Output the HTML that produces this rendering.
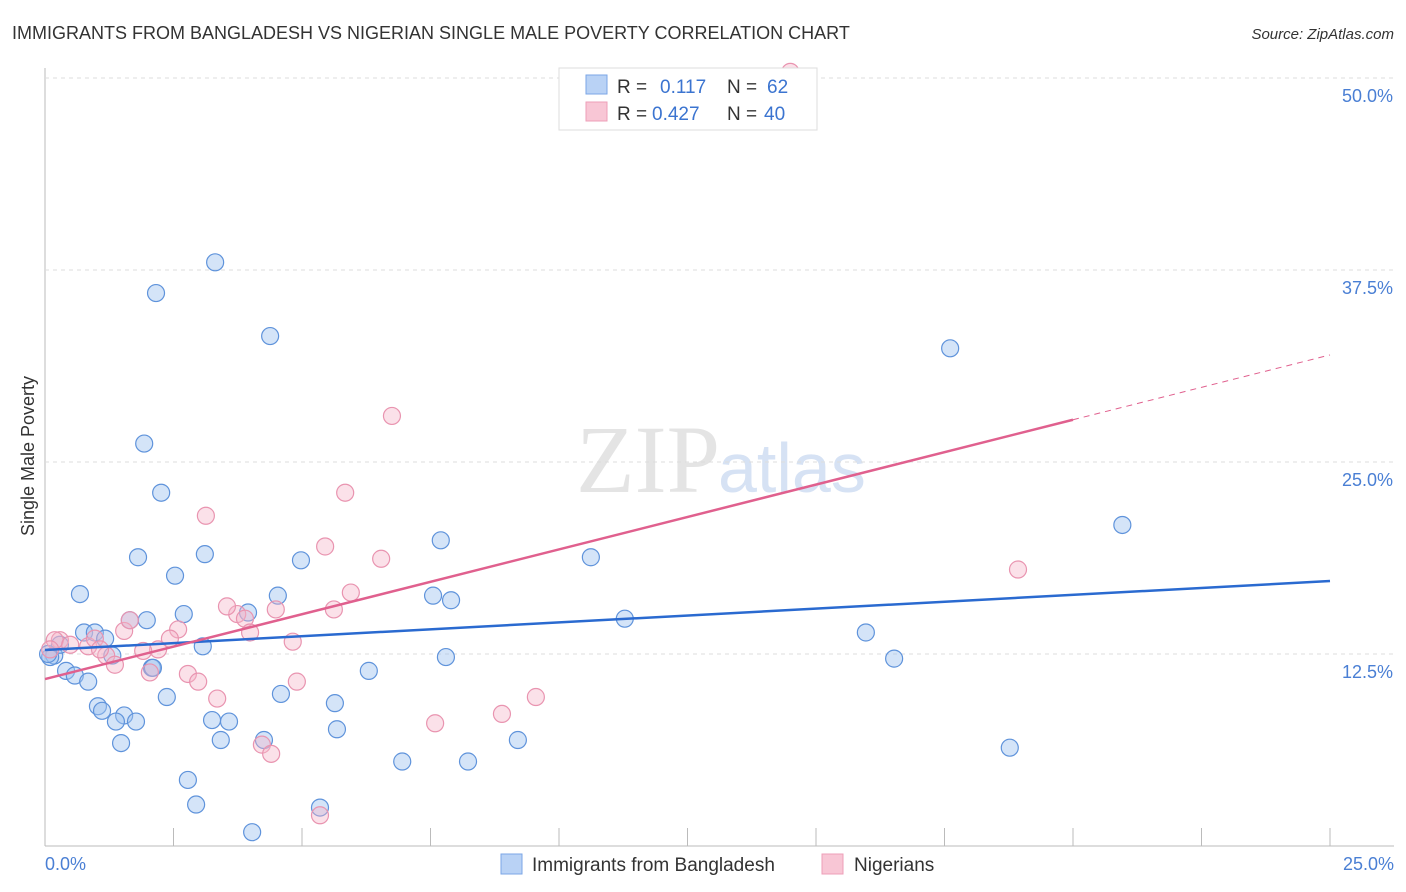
<!DOCTYPE html>
<html><head><meta charset="utf-8"><style>
body{margin:0;background:#fff;font-family:"Liberation Sans",sans-serif;}
svg{display:block}
</style></head><body>
<svg id="chart" width="1406" height="892">
<text x="12" y="39" font-size="18" fill="#333">IMMIGRANTS FROM BANGLADESH VS NIGERIAN SINGLE MALE POVERTY CORRELATION CHART</text>
<text x="1394" y="39" font-size="15" font-style="italic" fill="#333" text-anchor="end">Source: ZipAtlas.com</text>
<text x="720" y="492" font-size="96" font-family="Liberation Serif,serif" fill="#e4e4e4" text-anchor="end">ZIP</text>
<text x="718" y="492" font-size="70" fill="#d6e2f4">atlas</text>
<g id="grid"></g><g id="pts"></g><g id="lines"></g>
<text x="0" y="0" transform="translate(34,456) rotate(-90)" font-size="18" fill="#333" text-anchor="middle">Single Male Poverty</text>
<text x="45" y="870" font-size="18" fill="#4a7fd4">0.0%</text>
<text x="1394" y="870" font-size="18" fill="#4a7fd4" text-anchor="end">25.0%</text>
<g>
<rect x="559" y="68" width="258" height="62" fill="#fff" stroke="#ddd"/>
<rect x="586" y="75" width="21" height="19" fill="#b9d2f5" stroke="#7ba6e6"/>
<rect x="586" y="102" width="21" height="19" fill="#f8c6d5" stroke="#ee9fb8"/>
<text x="617" y="93" font-size="19" fill="#333">R = </text><text x="660" y="93" font-size="19" fill="#3b74d0">0.117</text>
<text x="727" y="93" font-size="19" fill="#333">N = </text><text x="767" y="93" font-size="19" fill="#3b74d0">62</text>
<text x="617" y="120" font-size="19" fill="#333">R = </text><text x="652" y="120" font-size="19" fill="#3b74d0">0.427</text>
<text x="727" y="120" font-size="19" fill="#333">N = </text><text x="764" y="120" font-size="19" fill="#3b74d0">40</text>
</g>
<g>
<rect x="501" y="854" width="21" height="20" fill="#b9d2f5" stroke="#7ba6e6"/>
<text x="532" y="871" font-size="19" fill="#333">Immigrants from Bangladesh</text>
<rect x="822" y="854" width="21" height="20" fill="#f8c6d5" stroke="#ee9fb8"/>
<text x="854" y="871" font-size="19" fill="#333">Nigerians</text>
</g>
</svg>
<script>
const yTicks=[12.5,25,37.5,50];
const yTickLabels=["12.5%","25.0%","37.5%","50.0%"];
const xTicks=[0,2.5,5,7.5,10,12.5,15,17.5,20,22.5,25];
const blueX=[3.31,2.16,4.38,1.93,2.26,1.81,3.11,2.53,0.68,2.70,3.95,4.53,4.98,7.70,7.55,7.90,10.62,11.28,17.61,20.96,15.97,16.52,18.77,1.98,1.65,0.76,0.97,1.17,1.31,3.07,2.08,2.10,0.41,0.58,0.84,0.18,0.10,0.29,0.06,2.37,1.03,1.11,1.54,1.77,1.38,1.48,3.25,3.58,3.42,4.26,4.59,5.64,5.68,6.30,7.80,6.95,8.23,9.20,2.78,2.94,5.35,4.03];
const blueY=[38.0,36.0,33.2,26.2,23.0,18.8,19.0,17.6,16.4,15.1,15.2,16.3,18.6,19.9,16.3,16.0,18.8,14.8,32.4,20.9,13.9,12.2,6.4,14.7,14.7,13.9,13.9,13.5,12.4,13.0,11.6,11.6,11.4,11.1,10.7,12.4,12.3,13.1,12.5,9.7,9.1,8.8,8.5,8.1,8.1,6.7,8.2,8.1,6.9,6.9,9.9,9.3,7.6,11.4,12.3,5.5,5.5,6.9,4.3,2.7,2.5,0.9];
const pinkX=[6.75,5.84,3.13,5.45,6.54,18.93,3.74,3.54,4.49,5.62,5.95,3.89,2.59,3.99,1.54,1.65,4.82,2.43,2.20,1.91,1.19,1.36,2.04,2.78,2.98,4.90,3.35,9.55,8.89,7.59,4.22,4.40,5.35,0.84,0.29,0.19,0.49,0.97,0.10,1.07,14.5];
const pinkY=[28.0,23.0,21.5,19.5,18.7,18.0,15.1,15.6,15.4,15.4,16.5,14.8,14.1,13.9,14.0,14.7,13.3,13.5,12.8,12.7,12.4,11.8,11.3,11.2,10.7,10.7,9.6,9.7,8.6,7.99,6.6,6.0,2.0,13.0,13.4,13.4,13.1,13.5,12.8,12.8,50.4];
const blueTrend=[12.76,17.25];
const pinkTrend=[10.87,31.97];
const pinkSolidEnd=20;
const NS='http://www.w3.org/2000/svg';
const X=v=>45+v*51.4, Y=v=>846-v*15.36;
function mk(t,a,p){const e=document.createElementNS(NS,t);for(const k in a)e.setAttribute(k,a[k]);p.appendChild(e);return e;}
const g=document.getElementById('grid');
mk('line',{x1:45,y1:68,x2:45,y2:846,stroke:'#bbb'},g);
mk('line',{x1:45,y1:846,x2:1394,y2:846,stroke:'#bbb'},g);
yTicks.forEach((t,i)=>{
 const l=mk('line',{x1:45,y1:Y(t),x2:1394,y2:Y(t),stroke:'#ddd','stroke-dasharray':'4,4'},g);
 
 
 const tx=mk('text',{x:1393,y:Y(t)+24,'font-size':18,fill:'#4a7fd4','text-anchor':'end'},g);
 tx.textContent=yTickLabels[i];
 
 
});
xTicks.forEach(t=>{
 const l=mk('line',{x1:X(t),y1:828,x2:X(t),y2:846,stroke:'#bbb'},g);
 
 
});
const p=document.getElementById('pts');
blueX.forEach((v,i)=>{const c=mk('circle',{cx:X(v),cy:Y(blueY[i]),r:8.5,fill:'rgba(160,195,240,0.45)',stroke:'#5f93db','stroke-width':1.2},p);
 
 });
pinkX.forEach((v,i)=>{const c=mk('circle',{cx:X(v),cy:Y(pinkY[i]),r:8.5,fill:'rgba(245,180,200,0.4)',stroke:'#e994b0','stroke-width':1.2},p);
 
 });
const L=document.getElementById('lines');
const b=mk('line',{x1:X(0),y1:Y(blueTrend[0]),x2:X(25),y2:Y(blueTrend[1]),stroke:'#2a6ad0','stroke-width':2.5},L);


const pm=pinkTrend[0]+(pinkTrend[1]-pinkTrend[0])*pinkSolidEnd/25;
const pk=mk('line',{x1:X(0),y1:Y(pinkTrend[0]),x2:X(pinkSolidEnd),y2:Y(pm),stroke:'#e0608e','stroke-width':2.5},L);


const pd=mk('line',{x1:X(pinkSolidEnd),y1:Y(pm),x2:X(25),y2:Y(pinkTrend[1]),stroke:'#e0608e','stroke-width':1,'stroke-dasharray':'6,5'},L);


</script>
</body></html>
